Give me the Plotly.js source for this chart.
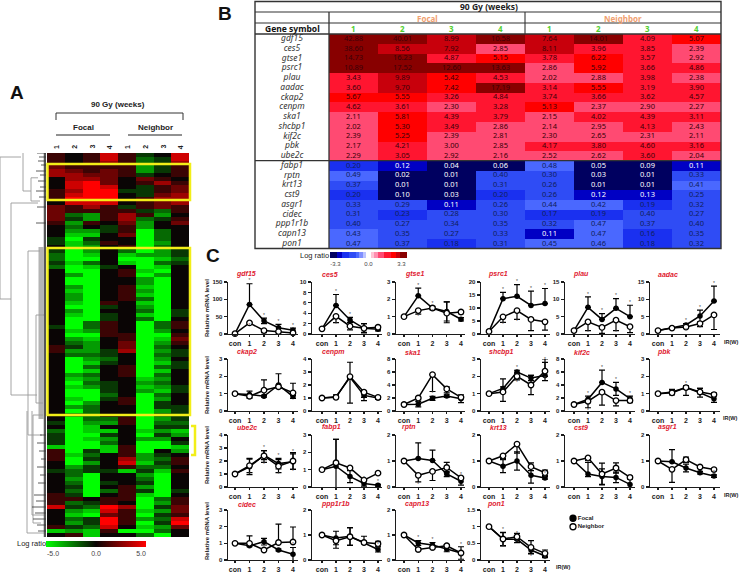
<!DOCTYPE html>
<html><head><meta charset="utf-8">
<script src="https://cdn.plot.ly/plotly-3.0.1.min.js"></script>
<style>html,body{margin:0;padding:0;background:#fff}#chart{width:739px;height:573px}</style>
</head><body><div id="chart"></div>
<script>
/* ---------- Panel A: clustered expression (rows top to bottom, Focal 1-4, Neighbor 1-4) ---------- */
const clusterColumns = ['F1','F2','F3','F4','N1','N2','N3','N4'];
const clusterRows = [
[1,0,1,4,1,-1,0,4],[1,0,1,4,1,-2,-1,4],[1,0,1,3,1,-2,-1,3],[2,1,1,1,1,-3,-1,1],[3,2,1,2,1,-3,-1,1],[3,3,2,2,1,-1,0,1],
[0,3,3,2,0,2,1,0],[0,4,5,2,0,1,3,1],[0,4,5,4,0,-1,1,2],[1,3,5,5,-1,-1,1,2],[1,4,5,5,0,-1,2,3],[1,5,5,5,0,1,3,3],
[0,4,4,4,0,1,2,3],[2,1,3,1,-1,1,2,1],[2,1,1,1,1,-1,-2,1],[2,-2,-3,1,3,1,-3,0],[2,-1,-3,1,3,-2,-1,1],[1,-3,1,0,2,-3,0,2],
[0,-2,0,-1,1,-3,0,0],[0,-3,-3,-1,1,-5,-2,0],[0,-4,-4,0,2,-5,-2,0],[-1,-5,-1,0,0,-5,-2,0],[-1,-4,-2,1,0,-5,-3,0],[0,-4,-3,0,1,-5,-2,0],
[-1,-5,-3,0,-2,-5,-3,-1],[-2,-5,-4,0,-4,-3,-3,-1],[-2,-5,-5,0,-5,-5,-4,-2],[-1,-4,-2,0,-4,-5,-2,-1],[-2,-5,-4,-1,0,-5,-4,0],[0,-5,-5,0,1,-4,-5,0],
[0,-3,-5,0,1,-5,-3,0],[0,-5,-5,0,0,-3,-5,0],[0,-5,-5,0,0,-3,-5,0],[0,-3,-5,0,1,-4,-5,0],[0,-4,-5,0,1,-3,-5,0],[0,-3,-5,0,1,-4,-5,0],
[0,-3,-5,0,1,-2,-5,0],[0,-4,-5,1,0,-4,-5,0],[0,-5,-5,-1,0,-3,-5,0],[0,-3,-5,0,0,-2,-5,-1],[0,-4,-5,-1,0,-4,-5,-1],[0,-5,-5,-1,0,-2,-5,0],
[0,-5,-2,1,0,-5,-2,1],[-1,-5,-2,1,0,-5,-2,1],[0,-4,-3,1,0,-5,-3,0],[0,-5,-5,1,1,-5,-5,1],[0,-3,-4,0,1,-5,-4,2],[0,-2,-3,0,2,-5,-3,1],
[1,-1,-3,0,2,-5,-2,0],[1,-3,-3,-1,3,-5,-3,-1],[0,-2,-2,-1,0,-5,-2,-1],[0,-5,-3,-2,0,-5,-3,0],[0,-5,-4,-1,0,-5,-4,-1],[0,-5,-2,0,1,-5,-2,-1],
[0,-5,-4,0,1,-5,-4,0],[0,-3,-2,0,1,-5,-2,0],[0,-4,-3,0,0,-4,-3,0],[0,-5,-2,-1,0,-3,-2,0],[0,-4,-3,-1,0,-4,-3,-1],[0,-5,-5,-1,0,-3,-4,-1],
[0,-5,-5,-2,0,-5,-2,0],[0,-4,-5,-1,1,-5,-3,0],[0,-5,-3,0,1,-5,-1,0],[0,-3,-2,0,0,-5,-1,-1],[0,-5,-2,0,0,-5,-3,-1],[0,-3,-2,0,0,-5,-2,-1],
[0,-5,-2,-2,1,-5,-3,-1],[-1,-5,-3,-3,1,-5,-2,-2],[0,-5,-4,0,0,-5,-1,-1],[-2,-5,-4,-4,0,-4,-3,-4],[-1,-5,-5,-1,0,-5,-1,-3],[-1,-5,-4,-3,0,-3,-3,0],
[-1,-5,-5,-2,0,-5,-5,-1],[-4,-5,-5,-4,1,-5,-5,-4],[1,-5,-1,-4,1,-5,0,-3],[1,-4,-2,0,1,-3,-1,0],[1,-5,-1,0,3,-3,-2,1],[0,-5,-3,0,4,-4,-1,1],
[0,-3,-1,0,1,-2,-2,0],[-1,-2,-1,-1,-4,-1,-4,1],[0,-2,-5,0,0,-3,-5,0],[0,-3,-5,0,0,-2,-5,0],[0,-2,-5,-1,0,-1,-5,0],[0,-1,-5,0,1,-3,-5,0],
[0,-2,-5,-2,1,-1,-5,-1],[1,-1,-5,0,1,-4,-5,0],[1,1,0,1,1,-5,-2,1],[1,-2,-1,1,0,-5,-3,1],[4,-1,-2,5,3,-5,-1,2],[0,-3,-4,4,1,-4,-3,2],
[0,-4,-5,2,1,-5,-1,1],[0,-2,-1,5,1,-3,-2,4],[0,-3,-1,5,1,-5,-1,5],[1,-1,-2,4,0,-4,-3,2],[-4,-3,-4,1,-5,-5,-2,0],[0,1,-4,0,0,-2,-5,0]
];
/* dendrogram: merge distance and row index, null separates branches */
const dendroDist = [46,46,null,46,25,null,46,35,null,35,35,null,35,8,null,35,9,null,23,23,null,23,1,null,23,15,null,15,15,null,15,8,null,15,6,null,
 18,18,null,18,6,null,18,4,null,13,13,null,13,3,null,13,5,null,19,19,null,19,1,null,14,14,null,14,1,null,10,10,null,10,2,null,10,3];
const dendroRow  = [0.5,36,null,0.5,0.5,null,36,36,null,12,60,null,12,12,null,60,60,null,-1,9,null,-1,-1,null,9,9,null,5.7,11.5,null,5.7,5.7,null,11.5,11.5,null,
 24,70,null,24,24,null,70,70,null,65,92,null,65,65,null,92,92,null,64,94.5,null,94.5,94.5,null,64,90,null,90,90,null,40,62,null,40,40,null,62,62];
const fringeDist = [9,0,null,7,0,null,8,0,null,5,0,null,10,0,null,6,0,null,8,0,null,6,0,null,10,0,null,7,0,null,9,0,null,12,0,null,10,0,null,14,0,null,11,0,null,13,0,null,9,0,null,8,0,null,6,0,null,9,0,null,7,0,null,5,0,null,9,0,null,6,0,null,8,0,null,10,0];
const fringeRow  = [-0.5,-0.5,null,0.5,0.5,null,1.5,1.5,null,2.5,2.5,null,4,4,null,5,5,null,6.5,6.5,null,8,8,null,9,9,null,10.5,10.5,null,13,13,null,85,85,null,86.5,86.5,null,88,88,null,89.5,89.5,null,91,91,null,92.5,92.5,null,94,94,null,70,70,null,72,72,null,74,74,null,76,76,null,78,78,null,80,80,null,82,82,null,17,17];
const bandDist = [5,5]; const bandRow = [23,66];
const coreDist = [1,1]; const coreRow = [-1,95.5];

/* ---------- Panel B: fold-change table ---------- */
const tableGenes = ['gdf15','ces5','gtse1','psrc1','plau','aadac','ckap2','cenpm','ska1','shcbp1','kif2c','pbk','ube2c','fabp1','rptn','krt13','cst9','asgr1','cidec','ppp1r1b','capn13','pon1'];
const tableValues = [
[42.88,40.01,8.99,10.58,7.64,14.01,4.09,5.07],
[38.60,8.56,7.92,2.85,8.11,3.96,3.85,2.39],
[14.73,16.23,4.87,5.15,3.78,6.22,3.57,2.92],
[10.89,17.52,12.60,13.63,2.86,5.92,3.66,4.86],
[3.43,9.89,5.42,4.53,2.02,2.88,3.98,2.38],
[3.60,9.70,7.42,17.19,3.14,5.55,3.19,3.90],
[5.67,5.55,3.26,4.84,3.74,3.66,3.62,4.57],
[4.62,3.61,2.30,3.28,5.13,2.37,2.90,2.27],
[2.11,5.81,4.39,3.79,2.15,4.02,4.39,3.11],
[2.02,5.30,3.49,2.86,2.14,2.95,4.13,2.43],
[2.39,5.25,2.39,2.81,2.30,2.65,2.31,2.11],
[2.17,4.21,3.00,2.85,4.17,3.80,4.60,3.16],
[2.29,3.05,2.92,2.16,2.52,2.62,3.60,2.04],
[0.20,0.12,0.04,0.06,0.48,0.05,0.09,0.11],
[0.49,0.02,0.01,0.40,0.30,0.03,0.01,0.33],
[0.37,0.01,0.01,0.31,0.26,0.01,0.01,0.41],
[0.20,0.10,0.03,0.20,0.26,0.12,0.13,0.25],
[0.33,0.29,0.11,0.26,0.44,0.42,0.19,0.32],
[0.31,0.23,0.28,0.30,0.17,0.19,0.40,0.27],
[0.40,0.27,0.34,0.35,0.32,0.47,0.37,0.40],
[0.43,0.35,0.27,0.33,0.11,0.47,0.16,0.35],
[0.47,0.37,0.18,0.31,0.45,0.46,0.18,0.32]
];

/* ---------- Panel C: qPCR time courses ---------- */
const panelGenes = ['gdf15','ces5','gtse1','psrc1','plau','aadac','ckap2','cenpm','ska1','shcbp1','kif2c','pbk','ube2c','fabp1','rptn','krt13','cst9','asgr1','cidec','ppp1r1b','capn13','pon1'];
const timeLabels = ['con','1','2','3','4'];
const yMax = [150,10,3,20,15,15, 3,4,8,3,8,3, 4,3,2,2,2,2, 3,2,2,1.5];
const yStep = [50,2,1,5,5,5, 1,1,2,1,2,1, 1,1,1,1,1,1, 1,1,1,0.5];
const focalMeans = [[1,85,38,18,11],[1,5.5,2.7,1.1,0.9],[1,2.2,1.5,1.3,0.85],[1,13.6,14.5,11,11.7],[1,7.7,4.2,7.4,5],[1,1.7,2.6,5.2,9.5],
 [1,0.95,0.85,1.5,0.83],[1,1.1,2.6,1.2,1],[1,1.05,1.95,2.3,1.9],[1,1.3,2.25,1.9,2.05],[1,1.8,4.4,3.4,1.9],[1,1.1,1.35,1.05,0.7],
 [1,1.55,2.45,1.8,1.95],[1,1.2,0.6,0.2,0.1],[1,1.1,1.02,0.5,0.22],[1,0.8,1,0.45,0.35],[1,0.5,0.4,0.37,0.1],[1,0.97,0.73,0.55,0.42],
 [1,0.85,1.1,0.6,0.35],[1,0.88,0.95,0.7,0.42],[1,0.68,0.6,0.43,0.28],[1,0.62,0.62,0.3,0.12]];
const focalUp = [[0,60,8,10,6],[0,2.1,0.5,0.9,0.3],[0,0.45,0.1,0.55,0.1],[0,2.4,4.5,5.5,5.8],[0,3,1.7,2.8,3.3],[0,0.2,0.4,1.7,4.3],
 [0,0.2,0.05,0.65,0.1],[0,0.1,0.1,0.1,0.1],[0,0.4,0.3,0.2,0.6],[0,0.1,0.1,0.15,0.75],[0,0.5,1.9,1,0.4],[0,0.15,0.1,0.25,0.2],
 [0,0.6,0.35,0.4,0.6],[0,1.55,0.35,0.15,0.05],[0,0.6,0.4,0.1,0.15],[0,0.25,0.35,0.3,0.05],[0,0.45,0.3,0.2,0.2],[0,0.47,0.15,0.05,0.05],
 [0,0.05,0.2,0.05,0.4],[0,0.27,0.35,0.25,0.1],[0,0.1,0.1,0.1,0.25],[0,0.2,0.1,0.1,0.05]];
const focalDown = [[0,0,8,10,6],[0,0,0.5,0.9,0.3],[0,0,0.1,0.55,0.1],[0,0,0,0,0],[0,0,0,0,0],[0,0.2,0.4,1.7,0],
 [0,0.2,0.05,0.1,0.1],[0,0.1,0.1,0.4,0.1],[0,0.4,0.3,0.2,0.6],[0,0.1,0.1,0.15,0.3],[0,0.5,0,1,0.4],[0,0.15,0.1,0.25,0.2],
 [0,0.6,0.35,0.4,0.6],[0,1.25,0.35,0.15,0.05],[0,0,0,0.1,0.15],[0,0.25,0.35,0.3,0.05],[0,0.1,0.3,0.2,0.2],[0,0,0.15,0.05,0.05],
 [0,0.05,0.2,0.05,0.4],[0,0.27,0.35,0.05,0.1],[0,0.1,0.1,0.1,0.25],[0,0.2,0.1,0.1,0.05]];
const neighborMeans = [[1,32,10,7,3],[1,3.4,1.5,1.1,1.3],[1,1.35,1.5,1.2,1.27],[1,6.6,9,5.6,4.7],[1,3.5,1.9,4,2.1],[1,1.7,2,3,5.5],
 [1,0.85,1.2,1.4,1.05],[1,1.05,2.65,1.45,1.05],[1,2,5.6,3.4,2.1],[1,1.1,2,1.5,2.3],[1,1.5,2.9,1.6,1.6],[1,1.05,1.35,1.1,0.95],
 [1,1.65,2.4,1.6,2],[1,1.4,1.1,0.4,0.8],[1,0.45,0.6,0.75,0.35],[1,1.2,1.65,0.78,0.55],[1,1.12,0.5,0.73,0.37],[1,0.68,1.05,0.77,0.67],
 [1,1,0.6,1.05,1.08],[1,0.77,0.93,0.7,0.65],[1,0.42,0.5,0.57,0.28],[1,0.63,0.7,0.38,0.2]];
const neighborUp = [[0,0,0,0,0],[0,0,0,0.9,0.2],[0,0,0,0.65,0],[0,0,0,0,0],[0,0,0,0,0],[0,0,0,0,0],
 [0,0.1,0.6,0.1,0.55],[0,0.2,1.1,0.1,0.1],[0,0,0,0.3,0.2],[0,0.75,0.2,0.55,0.7],[0,0,0,0,0.2],[0,0.1,0.1,0.2,0.1],
 [0,0.55,0.4,0.5,0.65],[0,1.35,0,0,0],[0,0,0,0.2,0.05],[0,0,0,0.15,0.1],[0,0,0.42,0.2,0.05],[0,0,0.1,0.05,0.05],
 [0,0.45,0.05,1.1,0.9],[0,0,0.35,0.05,0.1],[0,0.05,0.05,0.05,0.05],[0,0.2,0.1,0.2,0.1]];
const neighborDown = [[0,0,6,4,3],[0,1.2,0.7,0.8,0.4],[0,0.2,0.1,0.55,0.1],[0,2.1,3.4,4.3,3.2],[0,2.5,1.7,3,1.7],[0,0.2,0.4,0.9,4.2],
 [0,0.1,0.3,0.1,0.15],[0,0.1,2.05,0.4,0.15],[0,0.3,2.6,0.6,0.2],[0,0.55,0.2,0.55,0.3],[0,1,2,0.8,0.3],[0,0.1,0.45,0.1,0.1],
 [0,0.55,0.5,0.5,0.65],[0,0,0,0,0],[0,0.25,0.35,0.2,0.05],[0,0.1,0.35,0.15,0.1],[0,0.1,0.42,0.2,0.05],[0,0.5,0.1,0.05,0.05],
 [0,0.05,0.05,0,0],[0,0.3,0.35,0.05,0.1],[0,0.05,0.05,0.05,0.05],[0,0.2,0.1,0.2,0.1]];
const focalStars = [[1,2,3,4],[1,2],[1,2],[1,2,3,4],[1,2,3,4],[2,3,4],[],[],[],[2,4],[1,2,3,4],[2],[2,3,4],[3,4],[4],[4],[4],[4],[4],[4],[1,2,3,4],[1,2,3,4]];
const neighborStars = [[1],[1],[1,2],[1,2],[1,3],[2,3],[],[],[1,2,3],[2,4],[1],[4],[1,2,3,4],[],[1],[1,2,4],[1],[4],[],[4],[1,2,4],[1,2,3,4]];
const legendNames = ['Neighbor','Focal'];

/* ---------- layout helpers ---------- */
const W = 739, H = 573;
const px = x => x / W, py = y => 1 - y / H;
const SANS = 'Liberation Sans', NOTO = 'Noto Sans';
const traces = [], annotations = [], shapes = [];
const layout = {width:W,height:H,margin:{l:0,r:0,t:0,b:0,autoexpand:false},paper_bgcolor:'#fff',plot_bgcolor:'rgba(0,0,0,0)',showlegend:false,annotations,shapes,font:{family:SANS}};
const hidden = {visible:false,fixedrange:true};
function note(text,x,y,size,opt){annotations.push(Object.assign({text,x:px(x),y:py(y),xref:'paper',yref:'paper',showarrow:false,xanchor:'center',yanchor:'middle',font:{family:SANS,size,color:'#222'}},opt||{}));}
function hline(x0,x1,y,color,width){shapes.push({type:'line',xref:'paper',yref:'paper',x0:px(x0),x1:px(x1),y0:py(y),y1:py(y),line:{color,width}});}
function vline(x,y0,y1,color,width){shapes.push({type:'line',xref:'paper',yref:'paper',x0:px(x),x1:px(x),y0:py(y0),y1:py(y1),line:{color,width}});}
function box(x0,y0,x1,y1,color,width){shapes.push({type:'rect',xref:'paper',yref:'paper',x0:px(x0),x1:px(x1),y0:py(y0),y1:py(y1),line:{color,width},fillcolor:'rgba(0,0,0,0)'});}

/* ---------- Panel A ---------- */
layout.xaxis = Object.assign({domain:[px(47),px(189)],range:[-0.5,7.5],anchor:'y'},hidden);
layout.yaxis = Object.assign({domain:[py(537),py(153)],range:[95.5,-0.5],anchor:'x'},hidden);
layout.xaxis2 = Object.assign({domain:[px(0),px(46)],range:[46,0],anchor:'y'},hidden);
traces.push({type:'heatmap',z:clusterRows,x:clusterColumns.map((_,i)=>i),y:clusterRows.map((_,i)=>i),xaxis:'x',yaxis:'y',zmin:-5,zmax:5,
 colorscale:[[0,'#00ff00'],[0.5,'#0a0505'],[1,'#ff0000']],hoverinfo:'skip',
 colorbar:{orientation:'h',x:px(46),xanchor:'left',y:py(541),yanchor:'top',len:100,lenmode:'pixels',thickness:6,xpad:0,ypad:0,outlinewidth:0,ticks:'',
  tickvals:[-4.3,0,4.5],ticktext:['-5.0','0.0','5.0'],tickfont:{family:SANS,size:7,color:'#444'}}});
traces.push({type:'scatter',mode:'lines',x:bandDist,y:bandRow,xaxis:'x2',yaxis:'y',line:{color:'#b4b4b4',width:5},cliponaxis:false,hoverinfo:'skip'});
traces.push({type:'scatter',mode:'lines',x:dendroDist,y:dendroRow,xaxis:'x2',yaxis:'y',line:{color:'#9a9a9a',width:0.9},cliponaxis:false,connectgaps:false,hoverinfo:'skip'});
traces.push({type:'scatter',mode:'lines',x:coreDist,y:coreRow,xaxis:'x2',yaxis:'y',line:{color:'#555',width:2.5},cliponaxis:false,hoverinfo:'skip'});
traces.push({type:'scatter',mode:'lines',x:fringeDist,y:fringeRow,xaxis:'x2',yaxis:'y',line:{color:'#333',width:0.8},cliponaxis:false,hoverinfo:'skip'});

note('<b>A</b>',17,92,19,{font:{family:SANS,size:19,color:'#111'}});
note('<b>90 Gy (weeks)</b>',118,104,8);
note('<b>Focal</b>',83,127,8);
note('<b>Neighbor</b>',155,127,8);
hline(56,183,113,'#333',1); vline(56,113,120,'#333',1); vline(183,113,120,'#333',1);
hline(56,110,135,'#222',1); hline(128,182,135,'#222',1);
[1,2,3,4,1,2,3,4].forEach((n,i)=>note('<b>'+n+'</b>',56+i*17.75,147,7,{textangle:-90}));
box(47.5,164,190,200,'#f2ee18',2.5);
box(47.5,248,190,415,'#f2ee18',2.5);
shapes.push({type:'path',xref:'paper',yref:'paper',path:`M ${px(191)} ${py(426)} L ${px(195)} ${py(426)} L ${px(195)} ${py(455)} L ${px(191)} ${py(455)}`,line:{color:'#f2ee18',width:2.5}});
note('Log ratio',31,543,7.5);

/* ---------- Panel B ---------- */
const bSteps = [[-4,-3.32,'#000060'],[-3.32,-2.74,'#0000c4'],[-2.74,-2,'#1a30f0'],[-2,-1.32,'#2f4cf5'],[-1.32,-1,'#4a68ff'],[-1,-0.6,'#8090ff'],[-0.6,-0.3,'#bcc4ff'],[-0.3,0.3,'#ffffff'],
 [0.3,0.6,'#ffc4d4'],[0.6,1,'#ff90b0'],[1,1.585,'#ff4a72'],[1.585,2.32,'#ff1530'],[2.32,2.9,'#ff0000'],[2.9,3.32,'#c8000c'],[3.32,4,'#880000']];
const bScale = [];
bSteps.forEach(s=>{bScale.push([(s[0]+4)/8,s[2]]);bScale.push([(s[1]+4)/8,s[2]]);});
layout.xaxis3 = Object.assign({domain:[px(255),px(721)],range:[-2.01,7.5],anchor:'y3'},hidden);
layout.yaxis3 = Object.assign({domain:[py(248.5),py(34)],range:[21.5,-0.5],anchor:'x3'},hidden);
const colIdx = [0,1,2,3,4,5,6,7];
traces.push({type:'heatmap',z:tableValues.map(r=>r.map(v=>Math.log2(v))),x:colIdx,y:tableGenes.map((_,i)=>i),xaxis:'x3',yaxis:'y3',zmin:-4,zmax:4,colorscale:bScale,hoverinfo:'skip',
 colorbar:{orientation:'h',x:px(330),xanchor:'left',y:py(252),yanchor:'top',len:77,lenmode:'pixels',thickness:6,xpad:0,ypad:0,outlinewidth:0,ticks:'',
  tickvals:[-3.43,0,3.43],ticktext:['-3.3','0.0','3.3'],tickfont:{family:SANS,size:6,color:'#444'}}});
const cellX=[],cellY=[],cellT=[],cellC=[];
tableValues.forEach((row,r)=>row.forEach((v,c)=>{cellX.push(c);cellY.push(r);cellT.push(v.toFixed(2));cellC.push(v<0.14?'#ffffff':(v<1?'#10205a':'#3a0008'));}));
traces.push({type:'scatter',mode:'text',x:cellX,y:cellY,text:cellT,textposition:'middle center',textfont:{family:NOTO,size:7.5,color:cellC},xaxis:'x3',yaxis:'y3',hoverinfo:'skip'});
traces.push({type:'scatter',mode:'text',x:tableGenes.map(()=>-1.255),y:tableGenes.map((_,i)=>i),text:tableGenes.map(g=>'<i>'+g+'</i>'),textposition:'middle center',textfont:{family:NOTO,size:8.5,color:'#333'},xaxis:'x3',yaxis:'y3',hoverinfo:'skip'});
const LC='#333';
box(255,1.5,721,248.5,LC,1.4);
hline(255,721,12,LC,1.1); hline(255,721,23,LC,1.1); hline(255,721,34,LC,1.3); hline(255,721,160.7,LC,1.3);
vline(329,12,248.5,LC,1.3); vline(525,12,34,LC,1.1);
note('<b>90 Gy (weeks)</b>',489,7,8.5,{font:{family:NOTO,size:8.5,color:'#222'}});
note('<b>Focal</b>',427,18,8,{font:{family:NOTO,size:8,color:'#f0a070'}});
note('<b>Neighbor</b>',623,18,8,{font:{family:NOTO,size:8,color:'#f0a070'}});
note('<b>Gene symbol</b>',292,29,8.5,{font:{family:NOTO,size:8.5,color:'#111'}});
[1,2,3,4,1,2,3,4].forEach((n,i)=>note('<b>'+n+'</b>',353.5+i*49,29,8,{font:{family:NOTO,size:8,color:'#52d030'}}));
note('<b>B</b>',225,14,19,{font:{family:SANS,size:19,color:'#111'}});
note('Log ratio',314,255.5,7.5);

/* ---------- Panel C ---------- */
note('<b>C</b>',213,256,19,{font:{family:SANS,size:19,color:'#111'}});
const rowsPx = [[282,334],[359,411],[435,487],[510,560]];
const colsPx = [[228,235,293,298],[312,322,378,382],[396,404,461,465],[481,489,545,550],[565,574,630,635],[650,658,714,720]];
const titlePos = [[246,274],[330,274],[414,274],[498,274],[581,274],[668,274],[247,352],[333,352],[413,352],[501,352],[582,352],[664,352],[247,427],[331,427],[409,427],[498,427],[581,427],[667,427],[247,504],[335,504],[417,504],[496,504]];
const BOLD='#1c1c1c';
panelGenes.forEach((gene,i)=>{
 const n=i+4, xa='xaxis'+n, ya='yaxis'+n, xr='x'+n, yr='y'+n;
 const rp=rowsPx[Math.floor(i/6)], cp=colsPx[i%6];
 const unit=(cp[2]-cp[1])/4;
 const ticks=[]; for(let t=0;t<=yMax[i]+1e-6;t+=yStep[i]) ticks.push(t);
 layout[xa]={domain:[px(cp[0]),px(cp[3])],range:[(cp[0]-cp[1])/unit,(cp[3]-cp[1])/unit],anchor:yr,tickvals:[0,1,2,3,4],ticktext:timeLabels,tickangle:0,ticks:'outside',ticklen:2,tickwidth:1.4,tickcolor:BOLD,showline:true,linecolor:BOLD,linewidth:1.4,showgrid:false,zeroline:false,fixedrange:true,tickfont:{family:SANS,size:7,color:BOLD,weight:700}};
 layout[ya]={domain:[py(rp[1]),py(rp[0])],range:[0,yMax[i]],anchor:xr,tickvals:ticks,ticktext:ticks.map(String),ticks:'outside',ticklen:3,tickwidth:1.4,tickcolor:BOLD,showline:true,linecolor:BOLD,linewidth:1.4,showgrid:false,zeroline:false,fixedrange:true,tickfont:{family:SANS,size:6,color:BOLD,weight:700}};
 const xs=[0,1,2,3,4];
 traces.push({type:'scatter',mode:'lines+markers',x:xs,y:focalMeans[i],xaxis:xr,yaxis:yr,cliponaxis:false,hoverinfo:'skip',line:{color:'#000',width:1.5},marker:{color:'#000',size:5.5,symbol:'circle'},
  error_y:{type:'data',symmetric:false,array:focalUp[i],arrayminus:focalDown[i],color:'#000',thickness:1.2,width:3}});
 traces.push({type:'scatter',mode:'lines+markers',x:xs,y:neighborMeans[i],xaxis:xr,yaxis:yr,cliponaxis:false,hoverinfo:'skip',line:{color:'#000',width:1.5},marker:{color:'#fff',size:5.5,symbol:'circle',line:{color:'#000',width:1.3}},
  error_y:{type:'data',symmetric:false,array:neighborUp[i],arrayminus:neighborDown[i],color:'#000',thickness:1.2,width:3}});
 traces.push({type:'scatter',mode:'text',x:focalStars[i],y:focalStars[i].map(k=>focalMeans[i][k]+focalUp[i][k]),text:focalStars[i].map(()=>'*'),textposition:'top center',textfont:{family:SANS,size:5,color:'#444'},xaxis:xr,yaxis:yr,cliponaxis:false,hoverinfo:'skip'});
 traces.push({type:'scatter',mode:'text',x:neighborStars[i],y:neighborStars[i].map(k=>neighborMeans[i][k]-neighborDown[i][k]),text:neighborStars[i].map(()=>'*'),textposition:'bottom center',textfont:{family:SANS,size:5,color:'#444'},xaxis:xr,yaxis:yr,cliponaxis:false,hoverinfo:'skip'});
 note('<b><i>'+gene+'</i></b>',titlePos[i][0],titlePos[i][1],7,{font:{family:SANS,size:7,color:'#e02030'}});
});
[308,385,455,531].forEach(y=>note('<b>Relative mRNA level</b>',207,y,6,{textangle:-90}));
note('<b>IR(W)</b>',731,342,5.5); note('<b>IR(W)</b>',730,418,5.5); note('<b>IR(W)</b>',731,495,5.5); note('<b>IR(W)</b>',563,567,5.5);

/* legend */
const legN = panelGenes.length + 4;
layout['xaxis'+legN]=Object.assign({domain:[px(568),px(630)],range:[0,62],anchor:'y'+legN},hidden);
layout['yaxis'+legN]=Object.assign({domain:[py(531),py(514)],range:[-0.5,1.5],anchor:'x'+legN},hidden);
['#fff','#000'].forEach((c,i)=>traces.push({type:'scatter',mode:'markers+text',x:[5],y:[i],text:['<b>'+legendNames[i]+'</b>'],textposition:'middle right',textfont:{family:SANS,size:6,color:'#222'},marker:{color:c,size:6,line:{color:'#000',width:1.3}},xaxis:'x'+legN,yaxis:'y'+legN,cliponaxis:false,hoverinfo:'skip'}));

Plotly.newPlot('chart',traces,layout,{displayModeBar:false,staticPlot:true});
</script></body></html>
